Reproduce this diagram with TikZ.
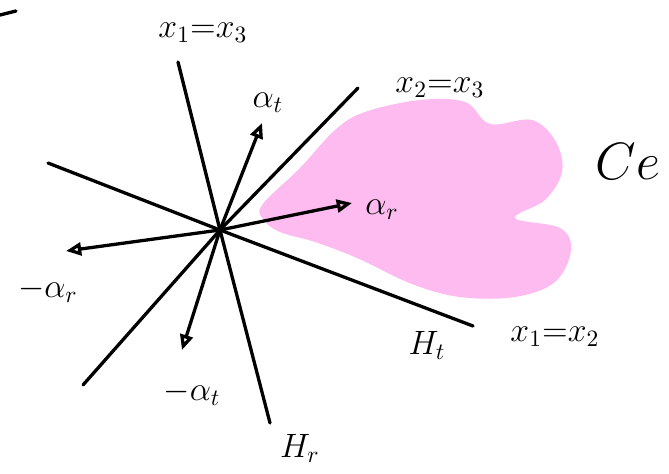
\documentclass[tikz,border=0pt]{standalone}
\usepackage{amssymb,amsmath}
\usetikzlibrary{arrows.meta}
\definecolor{chamber}{RGB}{253,187,240}

\begin{document}
\begin{tikzpicture}[x=0.03cm,y=-0.03cm,line width=2.8pt,line cap=round,line join=round]
  \tikzstyle{lbl}=[inner sep=1pt,font=\Large,scale=2]
  \tikzstyle{root}=[-{Triangle[open,length=13pt,width=11pt]}]
  \useasboundingbox (0,0) rectangle (669,473);
  % the chamber C_e
  \fill[chamber] plot[smooth cycle,tension=0.6] coordinates {(262,205) (300,168) (335,130) (365,112)
    (420,100) (465,102) (490,124) (532,120) (556,142) (562,172) (545,200) (515,218)
    (560,228) (571,250) (555,282) (515,297) (460,297) (412,284) (357,258) (315,242) (280,232) (264,220)};
  \coordinate (O) at (220,230);
  \coordinate (a) at (178,62);
  \coordinate (a') at (270,423);
  \coordinate (b) at (358,88);
  \coordinate (b') at (83,385);
  \coordinate (c) at (48,163);
  \coordinate (c') at (473,326);
  \draw (0,15) -- (16,11);
  \draw (a) -- (O) -- (a');
  \draw (b) -- (O) -- (b');
  \draw (c) -- (O) -- (c');
  % roots
  \coordinate (at) at (262,123);
  \coordinate (ar) at (352,203);
  \coordinate (mar) at (66,251);
  \coordinate (mat) at (182,350);
  \draw[root] (O) -- (at);
  \draw[root] (O) -- (ar);
  \draw[root] (O) -- (mar);
  \draw[root] (O) -- (mat);
  % labels
  \node[lbl] (l13) at (203,33) {$x_1{=}x_3$};
  \node[lbl] (l23) at (440,88) {$x_2{=}x_3$};
  \node[lbl] (l12) at (555,337) {$x_1{=}x_2$};
  \node[lbl] (Ht) at (427,345) {$H_t$};
  \node[lbl] (Hr) at (300,448) {$H_r$};
  \node[lbl] (lat) at (268,103) {$\alpha_t$};
  \node[lbl] (lar) at (382,210) {$\alpha_r$};
  \node[lbl] (lmar) at (48,290) {$-\alpha_r$};
  \node[lbl] (lmat) at (192,393) {$-\alpha_t$};
  \node[inner sep=1pt,font=\Huge,scale=1.8] (Ce) at (628,162) {$Ce$};
\end{tikzpicture}
\end{document}
